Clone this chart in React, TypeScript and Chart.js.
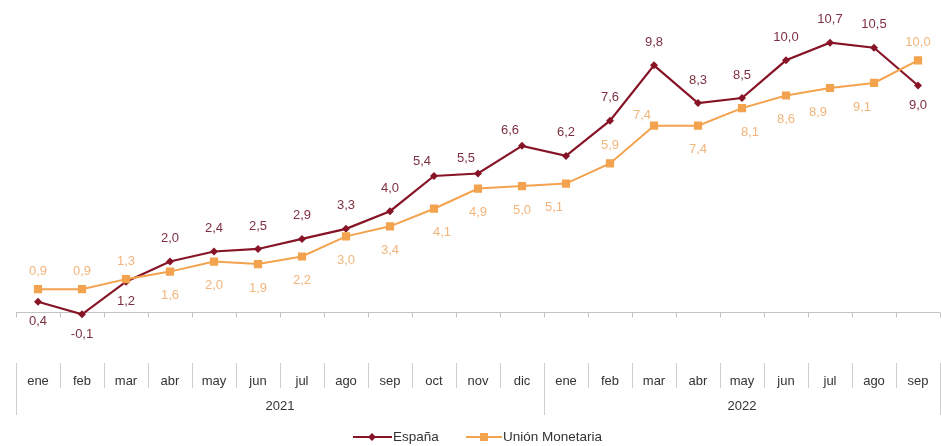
import React, { useEffect, useRef } from "react";
import { Chart, registerables } from "chart.js";

Chart.register(...registerables);

const months = ["ene", "feb", "mar", "abr", "may", "jun", "jul", "ago", "sep", "oct", "nov", "dic", "ene", "feb", "mar", "abr", "may", "jun", "jul", "ago", "sep"];
const years = ["2021", "2022"];
const yearStarts = [0, 12];
const espana = [0.4, -0.1, 1.2, 2.0, 2.4, 2.5, 2.9, 3.3, 4.0, 5.4, 5.5, 6.6, 6.2, 7.6, 9.8, 8.3, 8.5, 10.0, 10.7, 10.5, 9.0];
const union = [0.9, 0.9, 1.3, 1.6, 2.0, 1.9, 2.2, 3.0, 3.4, 4.1, 4.9, 5.0, 5.1, 5.9, 7.4, 7.4, 8.1, 8.6, 8.9, 9.1, 10.0];
// label placement: t = above, b = below, tl = above-left, bl = below-left, br = below-right
const espanaPlace = ["b", "b", "b", "t", "t", "t", "t", "t", "t", "tl", "tl", "tl", "t", "t", "t", "t", "t", "t", "t", "t", "b"];
const unionPlace = ["t", "t", "t", "b", "b", "b", "b", "b", "b", "br", "b", "b", "bl", "t", "tl", "b", "br", "b", "bl", "bl", "t"];

const ES_COLOR = "#861426";
const ES_LABEL = "#7e3040";
const UM_COLOR = "#F3A24E";
const UM_LABEL = "#F2B57C";
const FONT = "Liberation Sans, Arial, sans-serif";

const fmt = (v: number) => v.toFixed(1).replace(".", ",");

const overlay = {
  id: "overlay",
  beforeDatasetsDraw(chart: any) {
    const ctx = chart.ctx;
    const x = chart.scales.x;
    const y = chart.scales.y;
    const y0 = Math.round(y.getPixelForValue(0)) + 0.5;
    const left = chart.chartArea.left;
    const right = chart.chartArea.right;
    const step = x.getPixelForValue(1) - x.getPixelForValue(0);
    ctx.save();
    ctx.strokeStyle = "#c4c4c4";
    ctx.lineWidth = 1;
    ctx.beginPath();
    ctx.moveTo(left, y0);
    ctx.lineTo(right, y0);
    for (let i = 0; i <= months.length; i++) {
      const px = Math.round(x.getPixelForValue(i) - step / 2) + 0.5;
      ctx.moveTo(px, y0);
      ctx.lineTo(px, y0 + 5);
    }
    ctx.stroke();
    ctx.restore();
  },
  afterDatasetsDraw(chart: any) {
    const ctx = chart.ctx;
    const x = chart.scales.x;
    const y = chart.scales.y;
    const step = x.getPixelForValue(1) - x.getPixelForValue(0);
    ctx.save();
    ctx.font = `13px ${FONT}`;
    ctx.textAlign = "center";
    ctx.textBaseline = "middle";

    const drawLabels = (vals: number[], places: string[], color: string, up: number, down: number) => {
      ctx.fillStyle = color;
      vals.forEach((v, i) => {
        const px = x.getPixelForValue(i);
        const py = y.getPixelForValue(v);
        const p = places[i];
        let dx = 0;
        let dy = p.startsWith("t") ? -up : down;
        if (p.endsWith("l")) dx = -12;
        if (p.endsWith("r")) dx = 8;
        if (p === "tl") dy = -up + 8;
        ctx.fillText(fmt(v), px + dx, py + dy);
      });
    };
    drawLabels(espana, espanaPlace, ES_LABEL, 23, 20);
    drawLabels(union, unionPlace, UM_LABEL, 18, 24);

    // category axis
    const sepTop = 363;
    const sepBot = 388;
    const yearBot = 415;
    ctx.strokeStyle = "#cfcfcf";
    ctx.lineWidth = 1;
    ctx.beginPath();
    for (let i = 0; i <= months.length; i++) {
      const px = Math.round(x.getPixelForValue(i) - step / 2) + 0.5;
      const isYear = yearStarts.includes(i) || i === months.length;
      ctx.moveTo(px, sepTop);
      ctx.lineTo(px, isYear ? yearBot : sepBot);
    }
    ctx.stroke();

    ctx.fillStyle = "#333333";
    months.forEach((m, i) => {
      ctx.fillText(m, x.getPixelForValue(i), 381);
    });
    years.forEach((yr, k) => {
      const s = yearStarts[k];
      const e = k + 1 < yearStarts.length ? yearStarts[k + 1] - 1 : months.length - 1;
      const cx = (x.getPixelForValue(s) + x.getPixelForValue(e)) / 2;
      ctx.fillText(yr, cx, 406);
    });

    // legend
    const ly = 437;
    ctx.font = `13.5px ${FONT}`;
    ctx.lineWidth = 2;
    ctx.strokeStyle = ES_COLOR;
    ctx.beginPath();
    ctx.moveTo(353, ly);
    ctx.lineTo(392, ly);
    ctx.stroke();
    ctx.fillStyle = ES_COLOR;
    ctx.beginPath();
    ctx.moveTo(372 - 4, ly);
    ctx.lineTo(372, ly - 4);
    ctx.lineTo(372 + 4, ly);
    ctx.lineTo(372, ly + 4);
    ctx.closePath();
    ctx.fill();
    ctx.strokeStyle = UM_COLOR;
    ctx.beginPath();
    ctx.moveTo(466, ly);
    ctx.lineTo(502, ly);
    ctx.stroke();
    ctx.fillStyle = UM_COLOR;
    ctx.fillRect(484 - 4, ly - 4, 8, 8);
    ctx.fillStyle = "#333333";
    ctx.textAlign = "left";
    ctx.fillText("España", 393, ly);
    ctx.fillText("Unión Monetaria", 503, ly);
    ctx.restore();
  },
};

export default function App() {
  const ref = useRef<HTMLCanvasElement | null>(null);
  useEffect(() => {
    if (!ref.current) return;
    const chart = new Chart(ref.current, {
      type: "line",
      data: {
        labels: months,
        datasets: [
          {
            label: "Unión Monetaria",
            data: union,
            borderColor: UM_COLOR,
            backgroundColor: UM_COLOR,
            borderWidth: 2,
            pointStyle: "rect",
            pointRadius: 5.8,
            pointBorderWidth: 0,
            tension: 0,
          },
          {
            label: "España",
            data: espana,
            borderColor: ES_COLOR,
            backgroundColor: ES_COLOR,
            borderWidth: 2.2,
            pointStyle: "rectRot",
            pointRadius: 4,
            pointBorderWidth: 0,
            tension: 0,
          },
        ],
      },
      options: {
        animation: false,
        responsive: false,
        maintainAspectRatio: false,
        layout: { autoPadding: false, padding: { left: 16, right: 1, top: 10, bottom: 109 } },
        plugins: { legend: { display: false }, tooltip: { enabled: false } },
        scales: {
          x: { display: false, offset: true },
          y: { display: false, min: -1, max: 12 },
        },
      },
      plugins: [overlay],
    });
    return () => chart.destroy();
  }, []);
  return (
    <div style={{ position: "absolute", left: 0, top: 0, width: 941, height: 446, background: "#fff" }}>
      <canvas ref={ref} width={941} height={446} style={{ width: 941, height: 446 }} />
    </div>
  );
}
